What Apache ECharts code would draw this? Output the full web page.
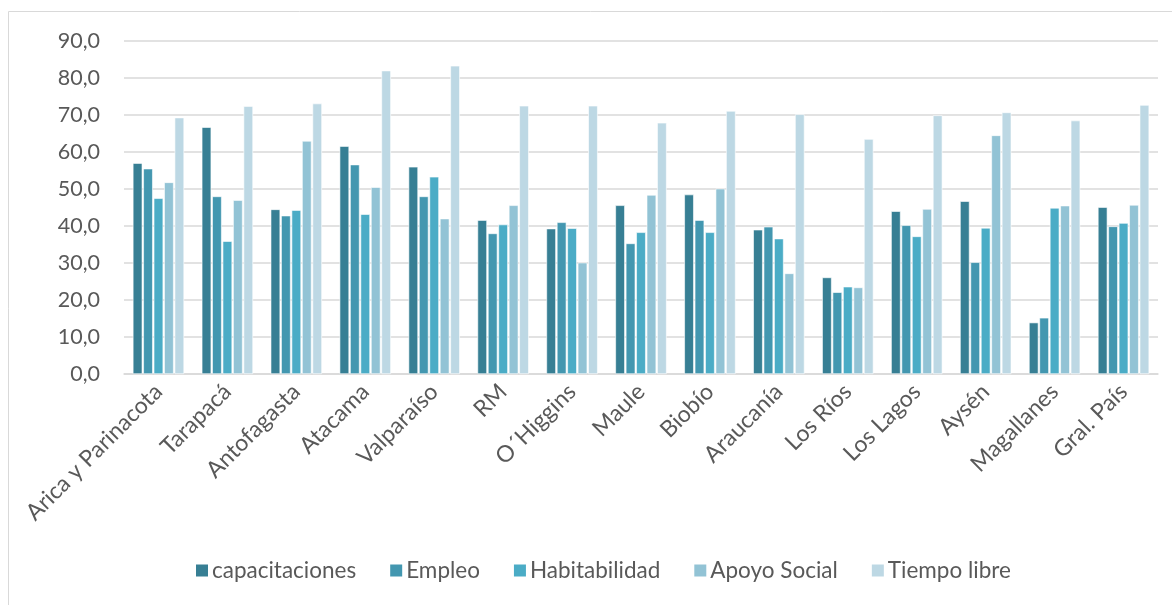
<!DOCTYPE html>
<html>
<head>
<meta charset="utf-8">
<script src="https://cdn.jsdelivr.net/npm/echarts@6/dist/echarts.min.js"></script>
<style>
html,body{margin:0;padding:0;background:#fff;}
#chart{width:1172px;height:605px;}
</style>
</head>
<body>
<div id="chart"></div>
<script>
const categories = ['Arica y Parinacota','Tarapacá','Antofagasta','Atacama','Valparaíso','RM','O´Higgins','Maule','Biobío','Araucanía','Los Ríos','Los Lagos','Aysén','Magallanes','Gral. País'];
const seriesNames = ['capacitaciones','Empleo','Habitabilidad','Apoyo Social','Tiempo libre'];
const capacitaciones = [57.0,66.7,44.5,61.6,56.0,41.6,39.3,45.6,48.5,39.0,26.1,44.0,46.7,13.9,45.1];
const empleo        = [55.5,48.0,42.8,56.6,48.0,38.0,41.0,35.3,41.6,39.8,22.1,40.2,30.2,15.2,39.9];
const habitabilidad = [47.5,35.9,44.3,43.2,53.3,40.4,39.4,38.3,38.3,36.6,23.6,37.2,39.5,44.9,40.8];
const apoyoSocial   = [51.8,47.0,63.0,50.5,42.0,45.6,30.1,48.4,50.1,27.2,23.4,44.6,64.5,45.5,45.7];
const tiempoLibre   = [69.3,72.4,73.1,82.0,83.3,72.5,72.5,67.9,71.1,70.2,63.5,69.9,70.7,68.5,72.7];
const yTicks = [0,10,20,30,40,50,60,70,80,90];
const colors = ['#377F94','#4397B0','#4BACC6','#92C3D5','#BDD8E4'];
const seriesData = [capacitaciones, empleo, habitabilidad, apoyoSocial, tiempoLibre];

const chart = echarts.init(document.getElementById('chart'));
const font = 'Lato, "Open Sans", sans-serif';
chart.setOption({
  animation: false,
  color: colors,
  graphic: [{
    type: 'rect', silent: true, z: -1,
    shape: {x: 8.5, y: 11.5, width: 1200, height: 700},
    style: {fill: 'none', stroke: '#D9D9D9', lineWidth: 1}
  }],
  grid: {left: 124, right: 14, top: 41, bottom: 231, containLabel: false},
  xAxis: {
    type: 'category',
    data: categories,
    axisLine: {lineStyle: {color: '#D9D9D9', width: 1.5}},
    axisTick: {show: false},
    axisLabel: {rotate: 45, color: '#595959', fontSize: 23, fontFamily: font, margin: 14, interval: 0}
  },
  yAxis: {
    type: 'value',
    min: yTicks[0], max: yTicks[yTicks.length-1], interval: 10,
    axisLine: {show: false},
    axisTick: {show: false},
    splitLine: {lineStyle: {color: '#D9D9D9', width: 1.5}},
    axisLabel: {color: '#595959', fontSize: 21.5, fontFamily: font, margin: 24,
      formatter: v => v.toFixed(1).replace('.', ',')}
  },
  legend: {
    bottom: 18, left: 189,
    itemWidth: 14, itemHeight: 14, itemGap: 32,
    icon: 'rect',
    textStyle: {color: '#595959', fontSize: 22.5, fontFamily: font, padding: [0,0,0,-2]},
    data: seriesNames
  },
  series: seriesNames.map((n, i) => ({
    name: n, type: 'bar', data: seriesData[i],
    barWidth: 9.5, barGap: '10%',
    itemStyle: {borderColor: '#ffffff', borderWidth: 0.6}
  }))
});
</script>
</body>
</html>
